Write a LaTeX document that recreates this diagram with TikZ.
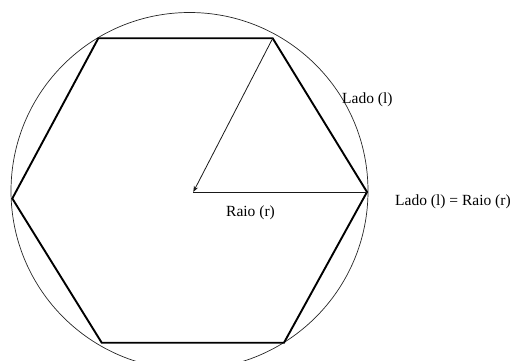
\documentclass[tikz,border=0pt]{standalone}
\usepackage{fontspec}
\setmainfont{Liberation Serif}
\usetikzlibrary{arrows.meta}
\begin{document}
\begin{tikzpicture}[x=1pt,y=-1pt,
  circ/.style={draw=black!85,line width=0.7pt},
  hexedge/.style={draw=black,line width=1.9pt,line join=miter},
  radline/.style={draw=black!90,line width=0.8pt},
  lbl/.style={font=\fontsize{15.5}{18}\selectfont,inner sep=0pt,anchor=west}]
\useasboundingbox (0,0) rectangle (511,361);
\coordinate (o) at (189.5,191);
\begin{scope}
\clip (0,0) rectangle (511,361);
\draw[circ] (o) circle[radius=178.5pt];
\end{scope}
\coordinate (v1) at (98.3,38.3);
\coordinate (v2) at (272.7,38.3);
\coordinate (v3) at (367,192);
\coordinate (v4) at (284,342.7);
\coordinate (v5) at (101.7,342.7);
\coordinate (v6) at (12.3,198.5);
\coordinate (c) at (193.3,192);
\draw[hexedge] (v1) -- (v2) -- (v3) -- (v4) -- (v5) -- (v6) -- cycle;
\draw[radline] (c) -- (v3);
\draw[radline,-{Stealth[length=6pt,width=4.5pt]}] (v2) -- (c);
\node[lbl] (lado) at (342,100) {Lado (l)};
\node[lbl] (raio) at (226,213) {Raio (r)};
\node[lbl] (eq) at (395,202) {Lado (l) = Raio (r)};
\end{tikzpicture}
\end{document}
